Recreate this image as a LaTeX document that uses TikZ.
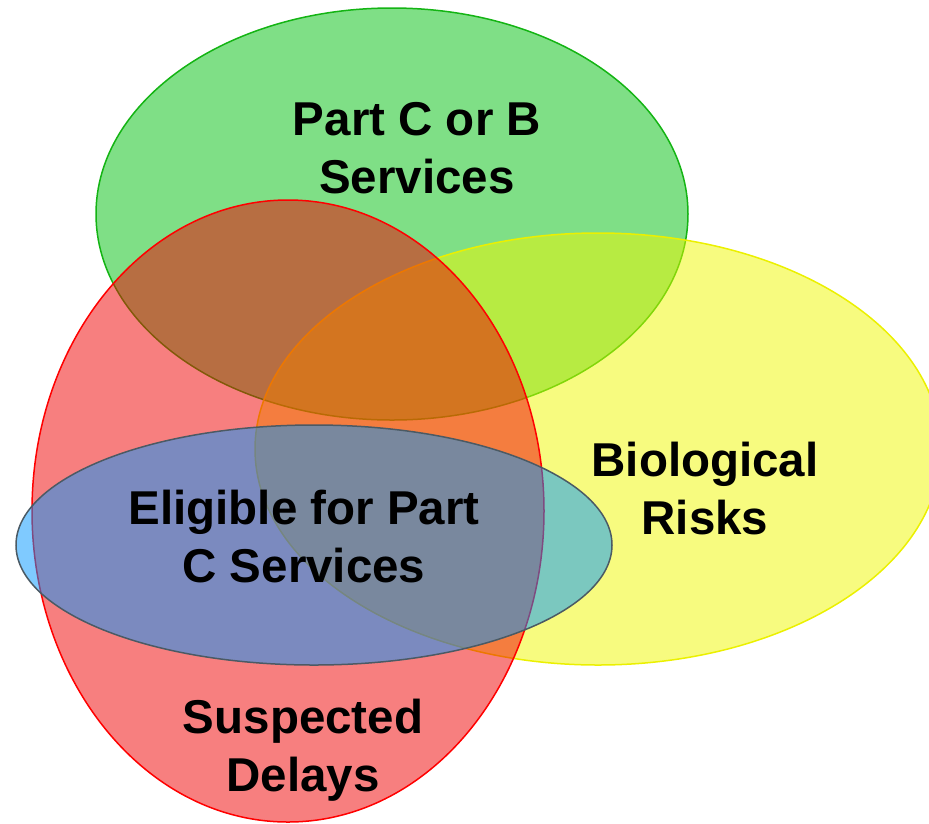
\documentclass[tikz,border=0pt]{standalone}
\usepackage{fontspec}
\setmainfont{Liberation Sans}
\definecolor{setgreen}{RGB}{0,191,13}
\definecolor{setgreenline}{RGB}{20,180,20}
\definecolor{setyellow}{RGB}{240,248,0}
\definecolor{setyellowline}{RGB}{235,240,0}
\definecolor{setred}{RGB}{240,0,0}
\definecolor{setredline}{RGB}{255,0,0}
\definecolor{setblue}{RGB}{0,150,255}
\definecolor{setblueline}{RGB}{75,90,100}
\begin{document}
\begin{tikzpicture}[x=1pt,y=-1pt,
  setshape/.style={line width=1.5pt, fill opacity=0.5},
  setlabel/.style={align=center, inner sep=0pt, text=black,
    font=\fontsize{47.5}{58}\selectfont\bfseries}]
  \useasboundingbox (0,0) rectangle (929,823);
  \clip (0,0) rectangle (929,823);
  % the four overlapping sets
  \draw[setshape, draw=setgreenline, fill=setgreen]
    (392,214) ellipse [x radius=296pt, y radius=206pt];
  \draw[setshape, draw=setyellowline, fill=setyellow]
    (598,449) ellipse [x radius=343pt, y radius=216pt];
  \draw[setshape, draw=setredline, fill=setred]
    (288,511) ellipse [x radius=256pt, y radius=311pt];
  \draw[setshape, draw=setblueline, fill=setblue]
    (314,545) ellipse [x radius=298pt, y radius=120pt];
  % labels
  \node[setlabel] (partcb) at (417,148.5) {Part C or B\\Services};
  \node[setlabel] (bio) at (705,489) {Biological\\Risks};
  \node[setlabel] (elig) at (304,536.5) {Eligible for Part\\C Services};
  \node[setlabel] (susp) at (303,750.5) {Suspected\\Delays};
\end{tikzpicture}
\end{document}
